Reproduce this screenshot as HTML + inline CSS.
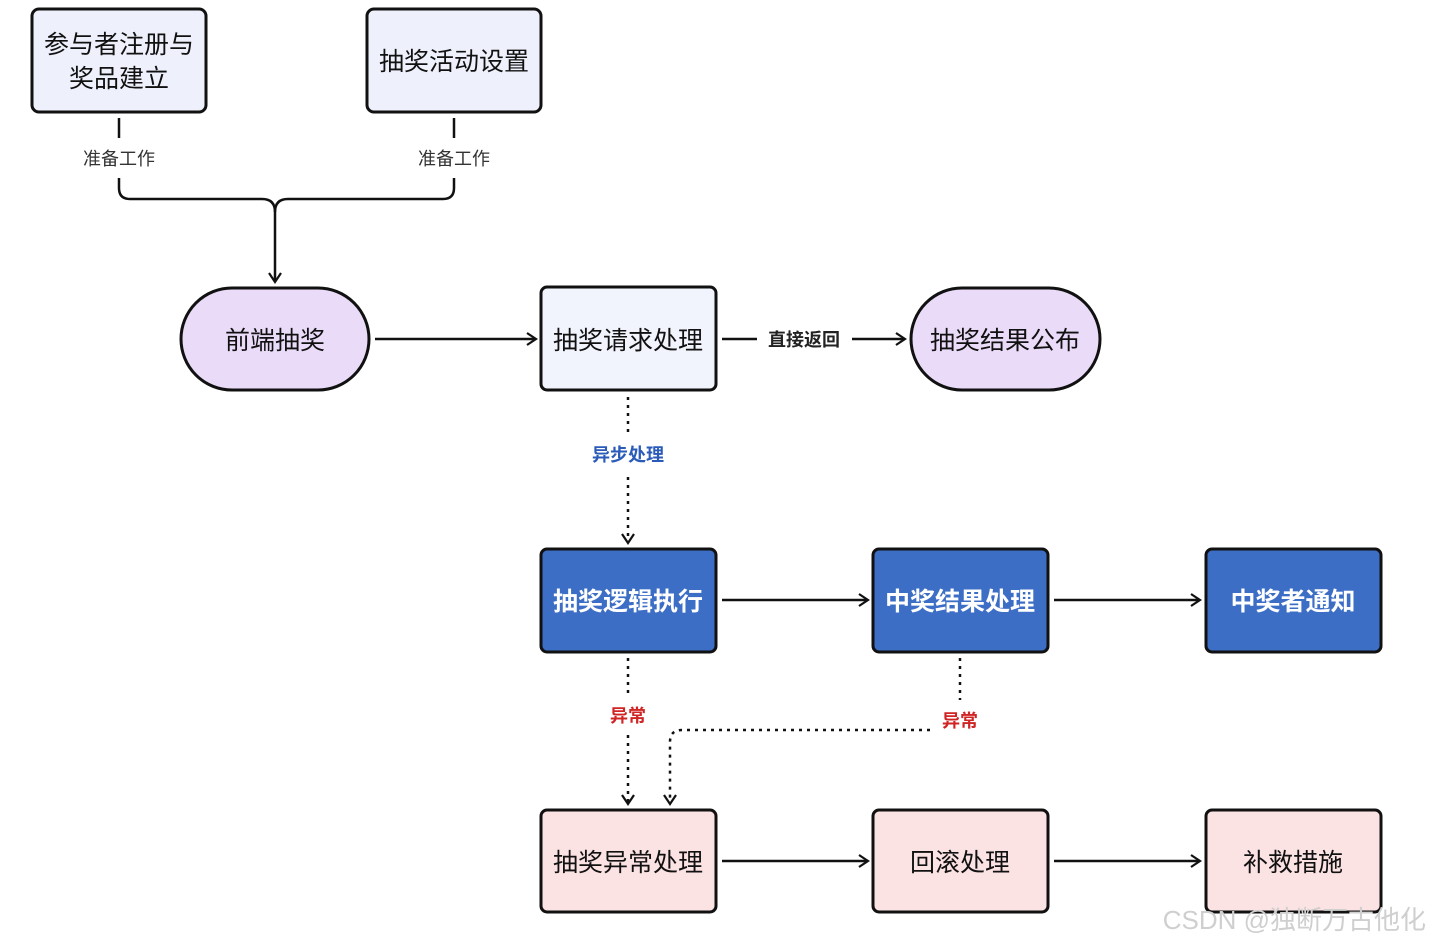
<!DOCTYPE html>
<html><head><meta charset="utf-8"><style>
html,body{margin:0;padding:0;background:#fff;}
svg text{font-family:"Liberation Sans","Noto Sans CJK SC",sans-serif;}
</style></head><body>
<svg width="1430" height="946" viewBox="0 0 1430 946" xmlns="http://www.w3.org/2000/svg">
<defs>
<marker id="ar" markerWidth="14" markerHeight="14" refX="11" refY="7" orient="auto" markerUnits="userSpaceOnUse">
<path d="M2,1 L11,7 L2,13" fill="none" stroke="#111" stroke-width="2.2"/></marker>
</defs>
<g stroke="#111" stroke-width="3">
<rect x="32" y="9" width="174" height="103" rx="7" fill="#eef1fb"/>
<rect x="367" y="9" width="174" height="103" rx="7" fill="#eef1fb"/>
<rect x="181" y="288" width="188" height="102" rx="51" fill="#eadcf8"/>
<rect x="541" y="287" width="175" height="103" rx="6" fill="#f1f4fc"/>
<rect x="911" y="288" width="189" height="102" rx="51" fill="#eadcf8"/>
<rect x="541" y="549" width="175" height="103" rx="6" fill="#3c6ec6"/>
<rect x="873" y="549" width="175" height="103" rx="6" fill="#3c6ec6"/>
<rect x="1206" y="549" width="175" height="103" rx="6" fill="#3c6ec6"/>
<rect x="541" y="810" width="175" height="102" rx="6" fill="#fbe2e3"/>
<rect x="873" y="810" width="175" height="102" rx="6" fill="#fbe2e3"/>
<rect x="1206" y="810" width="175" height="102" rx="6" fill="#fbe2e3"/>
</g>
<g fill="none" stroke="#111" stroke-width="2.5">
<path d="M119,118 V138"/><path d="M454,118 V138"/>
<path d="M119,178 V188 Q119,199 130,199 H262 Q275,199 275,212"/>
<path d="M454,178 V188 Q454,199 443,199 H288 Q275,199 275,212"/>
<path d="M275,212 V282" marker-end="url(#ar)"/>
<path d="M375,339 H536" marker-end="url(#ar)"/>
<path d="M722,339 H757"/>
<path d="M852,339 H905" marker-end="url(#ar)"/>
<path d="M722,600 H868" marker-end="url(#ar)"/>
<path d="M1054,600 H1200" marker-end="url(#ar)"/>
<path d="M722,861 H868" marker-end="url(#ar)"/>
<path d="M1054,861 H1200" marker-end="url(#ar)"/>
</g>
<g fill="none" stroke="#111" stroke-width="2.5" stroke-dasharray="3,5">
<path d="M628,397 V432"/>
<path d="M628,477 V543" marker-end="url(#ar)"/>
<path d="M628,658 V697"/>
<path d="M628,735 V804" marker-end="url(#ar)"/>
<path d="M960,658 V700"/>
<path d="M930,730 H682 Q670,730 670,742 V804" marker-end="url(#ar)"/>
</g>
<g font-size="25" text-anchor="middle" fill="#111">
<text x="119" y="53">参与者注册与</text>
<text x="119" y="87">奖品建立</text>
<text x="454" y="70">抽奖活动设置</text>
<text x="275" y="349">前端抽奖</text>
<text x="628" y="349">抽奖请求处理</text>
<text x="1005" y="349">抽奖结果公布</text>
<text x="628" y="871">抽奖异常处理</text>
<text x="960" y="871">回滚处理</text>
<text x="1293" y="871">补救措施</text>
</g>
<g font-size="25" font-weight="bold" text-anchor="middle" fill="#fff">
<text x="628" y="610">抽奖逻辑执行</text>
<text x="960" y="610">中奖结果处理</text>
<text x="1293" y="610">中奖者通知</text>
</g>
<g font-size="18" text-anchor="middle" font-weight="bold">
<text x="119" y="165" fill="#333" font-weight="normal">准备工作</text>
<text x="454" y="165" fill="#333" font-weight="normal">准备工作</text>
<text x="804" y="346" fill="#222">直接返回</text>
<text x="628" y="461" fill="#2a5bb8">异步处理</text>
<text x="628" y="722" fill="#d02525">异常</text>
<text x="960" y="727" fill="#d02525">异常</text>
</g>
<text x="1426" y="929" font-size="26" text-anchor="end" fill="#cfcfcf">CSDN @独断万古他化</text>
</svg>
</body></html>
